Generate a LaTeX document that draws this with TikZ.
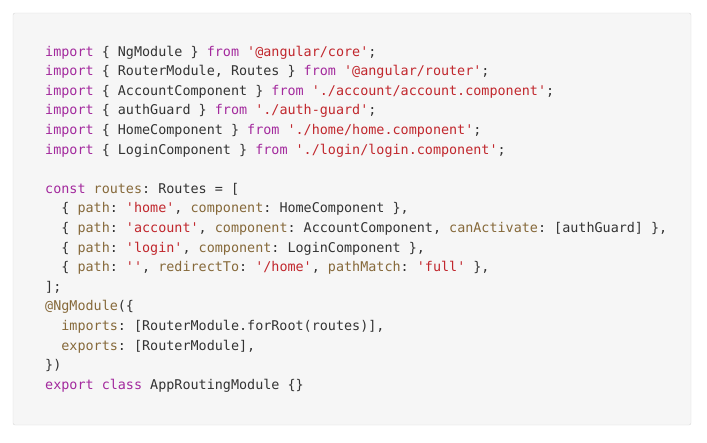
\documentclass[tikz,border=0pt]{standalone}
\usepackage{fontspec}
\setmonofont{DejaVu Sans Mono}
\definecolor{kwc}{HTML}{A3299D}
\definecolor{stc}{HTML}{C1272D}
\definecolor{prc}{HTML}{86693A}
\definecolor{txc}{HTML}{333333}
\definecolor{bgc}{HTML}{F6F6F6}
\definecolor{bdc}{HTML}{D8D8D8}
\newcommand{\kw}[1]{\textcolor{kwc}{#1}}
\newcommand{\st}[1]{\textcolor{stc}{#1}}
\newcommand{\pr}[1]{\textcolor{prc}{#1}}
\newcommand{\ind}{\hphantom{xx}}
\tikzset{codeline/.style={anchor=base west, inner sep=0pt, text=txc, font=\ttfamily\fontsize{13.42}{16}\selectfont}}
\begin{document}
\begin{tikzpicture}[x=1pt,y=-1pt]
\useasboundingbox (0,0) rectangle (707,442);
\draw[bdc, fill=bgc, rounded corners=2pt] (13,13) rectangle (691,425);
\def\lh{19.6}
\def\by{56}
\node[codeline] (l0) at (45,{\by+0*\lh}) {\kw{import} \{ NgModule \} \kw{from} \st{'@angular/core'};};
\node[codeline] (l1) at (45,{\by+1*\lh}) {\kw{import} \{ RouterModule, Routes \} \kw{from} \st{'@angular/router'};};
\node[codeline] (l2) at (45,{\by+2*\lh}) {\kw{import} \{ AccountComponent \} \kw{from} \st{'./account/account.component'};};
\node[codeline] (l3) at (45,{\by+3*\lh}) {\kw{import} \{ authGuard \} \kw{from} \st{'./auth-guard'};};
\node[codeline] (l4) at (45,{\by+4*\lh}) {\kw{import} \{ HomeComponent \} \kw{from} \st{'./home/home.component'};};
\node[codeline] (l5) at (45,{\by+5*\lh}) {\kw{import} \{ LoginComponent \} \kw{from} \st{'./login/login.component'};};
\node[codeline] (l7) at (45,{\by+7*\lh}) {\kw{const} \pr{routes}: Routes = [};
\node[codeline] (l8) at (45,{\by+8*\lh}) {\ind\{ \pr{path}: \st{'home'}, \pr{component}: HomeComponent \},};
\node[codeline] (l9) at (45,{\by+9*\lh}) {\ind\{ \pr{path}: \st{'account'}, \pr{component}: AccountComponent, \pr{canActivate}: [authGuard] \},};
\node[codeline] (l10) at (45,{\by+10*\lh}) {\ind\{ \pr{path}: \st{'login'}, \pr{component}: LoginComponent \},};
\node[codeline] (l11) at (45,{\by+11*\lh}) {\ind\{ \pr{path}: \st{''}, \pr{redirectTo}: \st{'/home'}, \pr{pathMatch}: \st{'full'} \},};
\node[codeline] (l12) at (45,{\by+12*\lh}) {];};
\node[codeline] (l13) at (45,{\by+13*\lh}) {\pr{@NgModule}(\{};
\node[codeline] (l14) at (45,{\by+14*\lh}) {\ind\pr{imports}: [RouterModule.forRoot(routes)],};
\node[codeline] (l15) at (45,{\by+15*\lh}) {\ind\pr{exports}: [RouterModule],};
\node[codeline] (l16) at (45,{\by+16*\lh}) {\})};
\node[codeline] (l17) at (45,{\by+17*\lh}) {\kw{export} \kw{class} AppRoutingModule \{\}};
\end{tikzpicture}
\end{document}
